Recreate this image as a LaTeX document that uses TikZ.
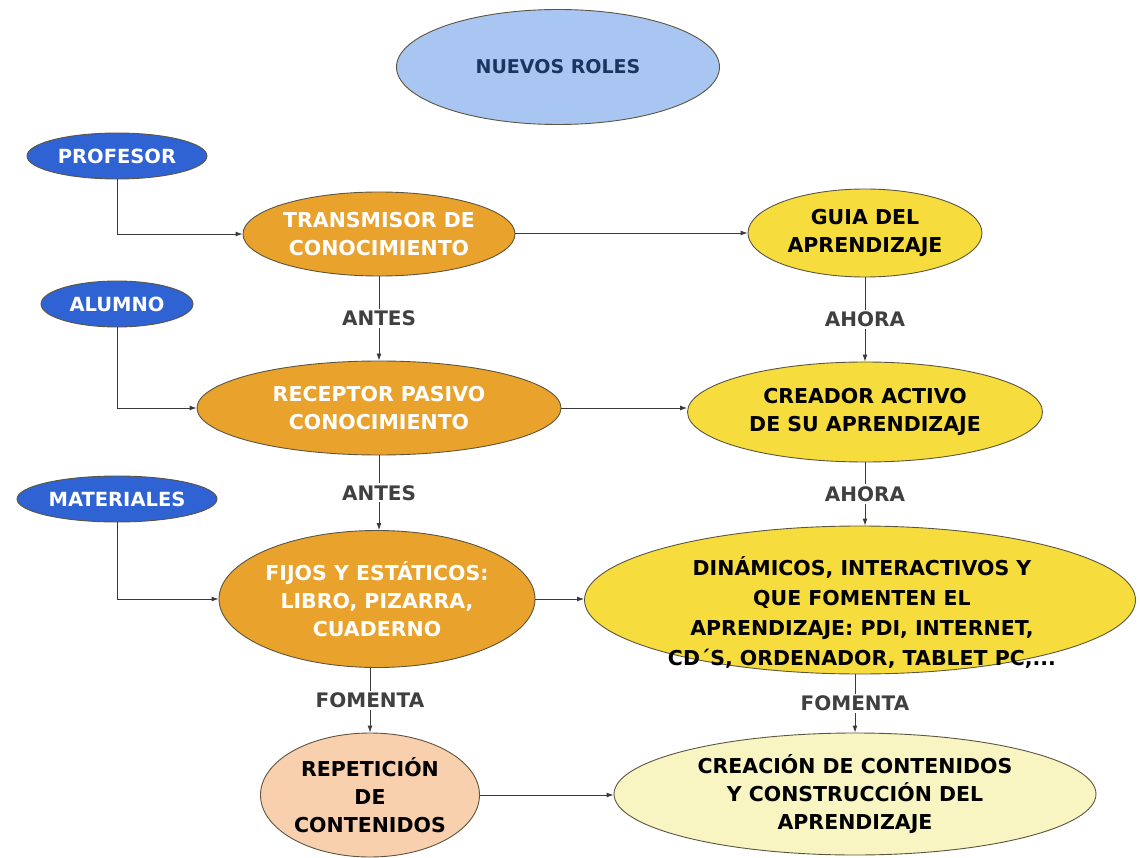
\documentclass[tikz,border=0pt]{standalone}
\usepackage{fontspec}
\setmainfont{DejaVu Sans}
\usetikzlibrary{shapes.geometric,arrows.meta}
\definecolor{blueN}{HTML}{2F62D2}
\definecolor{orangeN}{HTML}{E9A22C}
\definecolor{yellowN}{HTML}{F6DC3C}
\definecolor{skyN}{HTML}{A9C5F2}
\definecolor{peachN}{HTML}{F8D0AE}
\definecolor{paleN}{HTML}{F8F5C2}
\definecolor{navyN}{HTML}{17375E}
\definecolor{lineN}{HTML}{3A3A3A}
\definecolor{rimN}{HTML}{5C5540}
\definecolor{labN}{HTML}{404040}
\tikzset{
  bub/.style={ellipse, draw=rimN, line width=0.9pt, inner sep=0pt},
  txt/.style={align=center, inner sep=0pt, font=\fontsize{20.5}{28}\selectfont\bfseries},
  wtxt/.style={txt, text=white},
  btxt/.style={txt, text=black},
  small/.style={font=\fontsize{19.5}{22}\selectfont\bfseries},
  lab/.style={fill=white, inner sep=2pt, text=labN, font=\fontsize{20}{22}\selectfont\bfseries},
  conn/.style={draw=lineN, line width=0.9pt, -{Latex[length=7pt,width=5pt]}}
}
\begin{document}
\begin{tikzpicture}[x=1pt,y=-1pt]
\useasboundingbox (0,0) rectangle (1140,858);
% title
\node[bub, fill=skyN, minimum width=323, minimum height=115] (roles) at (558,67) {};
\node[txt, text=navyN, font=\fontsize{19}{22}\selectfont\bfseries] (rolest) at (roles.center) {NUEVOS ROLES};
% left labels
\node[bub, fill=blueN, minimum width=180, minimum height=46] (prof) at (117,156) {};
\node[wtxt, small] (proft) at (prof.center) {PROFESOR};
\node[bub, fill=blueN, minimum width=152, minimum height=46] (alum) at (117,304) {};
\node[wtxt, small] (alumt) at (alum.center) {ALUMNO};
\node[bub, fill=blueN, minimum width=200, minimum height=46] (mat) at (117,499) {};
\node[wtxt, small] (matt) at (mat.center) {MATERIALES};
% left column
\node[bub, fill=orangeN, minimum width=272, minimum height=84] (trans) at (379,234) {};
\node[wtxt] (transt) at (trans.center) {TRANSMISOR DE\\CONOCIMIENTO};
\node[bub, fill=orangeN, minimum width=364, minimum height=94] (rec) at (379,408) {};
\node[wtxt] (rect) at (rec.center) {RECEPTOR PASIVO\\CONOCIMIENTO};
\node[bub, fill=orangeN, minimum width=316, minimum height=137] (fij) at (377,599) {};
\node[wtxt] (fijt) at (fij.center) {FIJOS Y ESTÁTICOS:\\LIBRO, PIZARRA,\\CUADERNO};
\node[bub, fill=peachN, minimum width=219, minimum height=124] (rep) at (370,795) {};
\node[btxt] (rept) at (rep.center) {REPETICIÓN\\DE\\CONTENIDOS};
% right column
\node[bub, fill=yellowN, minimum width=234, minimum height=88] (guia) at (865,233) {};
\node[btxt] (guiat) at (guia.center) {GUIA DEL\\APRENDIZAJE};
\node[bub, fill=yellowN, minimum width=355, minimum height=100] (crea) at (865,412) {};
\node[btxt] (creat) at (crea.center) {CREADOR ACTIVO\\DE SU APRENDIZAJE};
\node[bub, fill=yellowN, minimum width=551, minimum height=148] (din) at (860,600) {};
\node[btxt, font=\fontsize{20.5}{30}\selectfont\bfseries] (dint) at (862,612) {DINÁMICOS, INTERACTIVOS Y\\QUE FOMENTEN EL\\APRENDIZAJE: PDI, INTERNET,\\CD´S, ORDENADOR, TABLET PC,...};
\node[bub, fill=paleN, minimum width=482, minimum height=122] (cons) at (855,794) {};
\node[btxt] (const) at (cons.center) {CREACIÓN DE CONTENIDOS\\Y CONSTRUCCIÓN DEL\\APRENDIZAJE};
% elbow connectors
\draw[conn] (prof.south) |- (trans.west);
\draw[conn] (alum.south) |- (rec.west);
\draw[conn] (mat.south) |- (fij.west);
% horizontal connectors
\draw[conn] (trans.east |- guia.west) -- (guia.west);
\draw[conn] (rec.east) -- (crea.west |- rec.east);
\draw[conn] (fij.east) -- (din.west |- fij.east);
\draw[conn] (rep.east) -- (cons.west |- rep.east);
% vertical connectors with labels
\draw[conn] (trans.south) -- node[lab] (l1) {ANTES} (rec.north);
\draw[conn] (rec.south) -- node[lab] (l2) {ANTES} (rec.south |- fij.north);
\draw[conn] (rep.north |- fij.south) -- node[lab] (l3) {FOMENTA} (rep.north);
\draw[conn] (guia.south) -- node[lab] (r1) {AHORA} (crea.north);
\draw[conn] (crea.south) -- node[lab] (r2) {AHORA} (crea.south |- din.north);
\draw[conn] (cons.north |- din.south) -- node[lab] (r3) {FOMENTA} (cons.north);
\end{tikzpicture}
\end{document}
